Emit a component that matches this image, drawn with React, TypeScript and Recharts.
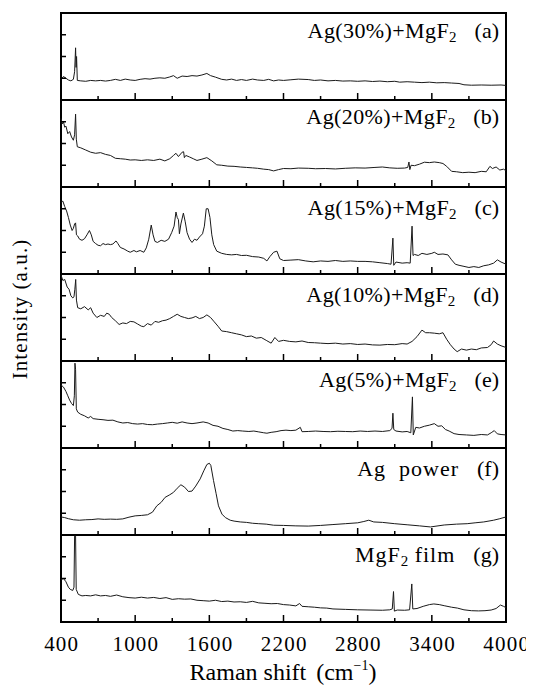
import React from 'react';
import { LineChart, Line, XAxis, YAxis, ReferenceArea } from 'recharts';

type Pt = [number, number];

const majorTicks = [400, 1000, 1600, 2200, 2800, 3400, 4000];
const allTicks = [400, 700, 1000, 1300, 1600, 1900, 2200, 2500, 2800, 3100, 3400, 3700, 4000];
const yTicks = [1, 2, 3];

const labelMain = ['Ag(30%)+MgF', 'Ag(20%)+MgF', 'Ag(15%)+MgF', 'Ag(10%)+MgF', 'Ag(5%)+MgF', 'Ag\u00a0\u00a0power', 'MgF'];
const labelSub = ['2', '2', '2', '2', '2', '', '2'];
const labelTail = ['', '', '', '', '', '', '\u00a0film'];
const labelTag = ['(a)', '(b)', '(c)', '(d)', '(e)', '(f)', '(g)'];

// Ag(30%)+MgF2
const specA: Pt[] = [
  [400, 0.95], [420, 1.08], [440, 1.0], [460, 0.92], [480, 0.88], [500, 0.95], [510, 1.3], [518, 2.4], [522, 1.5],
  [526, 2.0], [532, 0.9], [560, 0.88], [600, 0.86], [640, 0.9], [680, 0.88], [720, 0.9], [760, 0.87], [800, 0.9],
  [840, 0.95], [880, 0.9], [920, 0.96], [960, 0.92], [1000, 0.9], [1040, 0.95], [1080, 0.98], [1120, 0.96],
  [1160, 1.0], [1200, 1.02], [1240, 1.0], [1280, 1.06], [1310, 1.12], [1340, 1.0], [1380, 1.1], [1420, 1.08],
  [1460, 1.12], [1500, 1.1], [1540, 1.15], [1580, 1.22], [1610, 1.12], [1650, 1.05], [1700, 0.95], [1740, 0.92],
  [1780, 0.96], [1820, 0.9], [1860, 0.94], [1900, 0.9], [1950, 0.96], [1990, 0.92], [2040, 0.9], [2080, 0.95],
  [2120, 0.88], [2160, 0.92], [2200, 0.9], [2260, 0.93], [2320, 0.96], [2400, 0.94], [2450, 0.9], [2500, 0.92],
  [2560, 0.88], [2620, 0.9], [2680, 0.87], [2740, 0.88], [2800, 0.86], [2860, 0.88], [2920, 0.85], [2980, 0.87],
  [3040, 0.84], [3100, 0.86], [3140, 0.82], [3200, 0.84], [3260, 0.82], [3320, 0.8], [3380, 0.82], [3440, 0.79],
  [3500, 0.8], [3560, 0.78], [3620, 0.76], [3660, 0.7], [3720, 0.68], [3800, 0.69], [3880, 0.68], [3960, 0.69],
  [4000, 0.67],
];

// Ag(20%)+MgF2
const specB: Pt[] = [
  [400, 3.15], [410, 2.9], [420, 3.0], [430, 2.75], [440, 2.8], [455, 2.45], [470, 2.55], [485, 2.3], [500, 2.15],
  [510, 2.4], [518, 3.35], [524, 2.2], [532, 1.85], [560, 1.8], [600, 1.7], [640, 1.6], [680, 1.55], [720, 1.58],
  [760, 1.5], [800, 1.45], [840, 1.32], [880, 1.3], [920, 1.28], [960, 1.24], [1000, 1.25], [1050, 1.22],
  [1100, 1.25], [1150, 1.22], [1200, 1.28], [1240, 1.2], [1280, 1.3], [1310, 1.45], [1330, 1.55], [1350, 1.4],
  [1380, 1.6], [1392, 1.62], [1398, 1.35], [1410, 1.45], [1440, 1.38], [1470, 1.3], [1500, 1.22], [1540, 1.28],
  [1580, 1.35], [1620, 1.2], [1660, 1.02], [1700, 1.0], [1750, 0.96], [1800, 0.95], [1850, 0.92], [1900, 0.9],
  [1950, 0.88], [1990, 0.86], [2040, 0.82], [2080, 0.8], [2120, 0.74], [2160, 0.8], [2200, 0.85], [2260, 0.84],
  [2320, 0.87], [2400, 0.86], [2460, 0.84], [2540, 0.85], [2620, 0.83], [2700, 0.86], [2780, 0.88], [2860, 0.87],
  [2940, 0.9], [3000, 0.92], [3060, 0.88], [3120, 0.86], [3180, 0.87], [3205, 0.9], [3215, 1.15], [3222, 0.8],
  [3232, 1.0], [3260, 0.98], [3300, 1.05], [3340, 1.14], [3380, 1.12], [3420, 1.15], [3460, 1.12], [3490, 1.08],
  [3520, 0.95], [3560, 0.72], [3600, 0.7], [3650, 0.66], [3700, 0.68], [3750, 0.66], [3800, 0.72], [3840, 0.7],
  [3870, 0.95], [3890, 0.85], [3920, 0.92], [3950, 0.78], [3980, 0.82], [4000, 0.75],
];

// Ag(15%)+MgF2
const specC: Pt[] = [
  [400, 3.3], [415, 3.35], [430, 3.1], [445, 2.9], [460, 2.6], [475, 2.25], [490, 2.0], [500, 2.1], [510, 2.3],
  [518, 2.35], [525, 1.8], [535, 1.75], [550, 1.6], [570, 1.55], [590, 1.62], [610, 1.8], [630, 2.0], [645, 1.8],
  [660, 1.5], [680, 1.4], [700, 1.32], [720, 1.3], [740, 1.4], [760, 1.35], [780, 1.38], [800, 1.35], [820, 1.38],
  [845, 1.52], [860, 1.4], [880, 1.22], [910, 1.15], [940, 1.05], [960, 1.0], [990, 1.08], [1010, 1.02],
  [1040, 1.08], [1070, 1.0], [1090, 1.2], [1110, 1.6], [1130, 2.25], [1145, 1.8], [1160, 1.5], [1180, 1.45],
  [1210, 1.55], [1240, 1.5], [1270, 1.6], [1295, 1.9], [1315, 2.2], [1330, 2.85], [1340, 2.6], [1350, 2.5],
  [1358, 1.85], [1370, 2.3], [1390, 2.8], [1405, 2.4], [1420, 1.9], [1440, 1.6], [1460, 1.45], [1480, 1.6],
  [1500, 1.55], [1520, 1.7], [1545, 1.85], [1560, 2.2], [1575, 3.0], [1590, 3.0], [1605, 2.6], [1620, 1.8],
  [1635, 1.35], [1660, 1.05], [1700, 0.95], [1740, 0.9], [1780, 0.88], [1820, 0.9], [1860, 0.85], [1900, 0.86],
  [1950, 0.8], [2000, 0.78], [2040, 0.72], [2066, 0.6], [2090, 0.8], [2120, 1.0], [2147, 1.05], [2170, 0.7],
  [2200, 0.62], [2260, 0.64], [2320, 0.66], [2380, 0.6], [2440, 0.56], [2500, 0.6], [2560, 0.58], [2620, 0.62],
  [2680, 0.58], [2740, 0.6], [2800, 0.58], [2860, 0.58], [2920, 0.56], [2980, 0.52], [3040, 0.48], [3070, 0.45],
  [3085, 1.65], [3092, 0.4], [3110, 0.55], [3160, 0.5], [3200, 0.52], [3225, 0.5], [3240, 2.2], [3248, 0.85],
  [3260, 0.9], [3290, 0.85], [3320, 0.95], [3360, 0.9], [3400, 0.95], [3420, 1.0], [3450, 0.9], [3490, 0.92],
  [3530, 0.88], [3560, 0.65], [3590, 0.45], [3620, 0.4], [3660, 0.35], [3700, 0.3], [3740, 0.34], [3780, 0.3],
  [3820, 0.38], [3860, 0.42], [3900, 0.5], [3930, 0.65], [3960, 0.55], [4000, 0.45],
];

// Ag(10%)+MgF2
const specD: Pt[] = [
  [400, 3.95], [415, 3.7], [430, 3.75], [450, 3.4], [465, 3.3], [480, 3.0], [495, 2.9], [505, 2.95], [512, 3.3],
  [519, 3.75], [525, 2.8], [535, 2.45], [560, 2.4], [590, 2.5], [620, 2.35], [640, 2.45], [660, 2.2], [690, 2.0],
  [720, 2.1], [750, 2.05], [770, 2.2], [790, 2.15], [810, 2.0], [840, 1.85], [870, 1.68], [900, 1.75], [930, 1.72],
  [960, 1.82], [990, 1.8], [1020, 1.7], [1050, 1.6], [1070, 1.58], [1100, 1.72], [1130, 1.65], [1160, 1.82],
  [1190, 1.78], [1220, 1.85], [1250, 1.88], [1280, 1.95], [1310, 2.05], [1340, 2.15], [1370, 2.05], [1400, 2.0],
  [1430, 1.95], [1460, 1.98], [1490, 2.05], [1520, 1.95], [1550, 2.0], [1580, 2.12], [1610, 2.0], [1640, 1.8],
  [1670, 1.6], [1700, 1.38], [1740, 1.35], [1780, 1.3], [1820, 1.25], [1860, 1.2], [1900, 1.12], [1940, 1.15],
  [1980, 1.05], [2020, 1.08], [2060, 0.95], [2100, 0.82], [2130, 1.08], [2160, 0.9], [2200, 0.95], [2250, 0.9],
  [2300, 0.88], [2350, 0.92], [2400, 0.85], [2450, 0.84], [2500, 0.82], [2560, 0.8], [2620, 0.82], [2680, 0.78],
  [2740, 0.8], [2800, 0.76], [2860, 0.78], [2920, 0.74], [2980, 0.73], [3040, 0.76], [3100, 0.75], [3160, 0.8],
  [3200, 0.78], [3240, 0.9], [3280, 1.12], [3320, 1.42], [3350, 1.3], [3380, 1.3], [3420, 1.28], [3460, 1.25],
  [3490, 1.3], [3520, 1.0], [3550, 0.75], [3580, 0.55], [3605, 0.43], [3640, 0.55], [3680, 0.5], [3720, 0.55],
  [3760, 0.52], [3800, 0.6], [3850, 0.62], [3880, 0.75], [3900, 0.92], [3930, 0.78], [3960, 0.7], [4000, 0.62],
];

// Ag(5%)+MgF2
const specE: Pt[] = [
  [400, 2.9], [420, 2.8], [440, 2.6], [455, 2.4], [470, 2.2], [485, 2.05], [500, 1.95], [508, 2.4], [513, 3.9],
  [518, 3.6], [524, 1.8], [535, 1.65], [560, 1.55], [590, 1.48], [620, 1.38], [640, 1.45], [660, 1.35], [700, 1.32],
  [740, 1.3], [780, 1.27], [820, 1.28], [860, 1.2], [900, 1.15], [940, 1.17], [980, 1.12], [1020, 1.1], [1060, 1.12],
  [1100, 1.08], [1140, 1.07], [1180, 1.1], [1220, 1.12], [1260, 1.15], [1300, 1.18], [1340, 1.14], [1380, 1.2],
  [1420, 1.15], [1460, 1.12], [1500, 1.15], [1550, 1.2], [1590, 1.15], [1630, 1.04], [1670, 1.0], [1710, 0.9],
  [1750, 0.85], [1790, 0.78], [1830, 0.8], [1870, 0.78], [1920, 0.76], [1960, 0.78], [2000, 0.74], [2040, 0.7],
  [2066, 0.68], [2100, 0.72], [2140, 0.75], [2180, 0.8], [2220, 0.82], [2260, 0.8], [2300, 0.82], [2336, 0.95],
  [2350, 0.75], [2400, 0.76], [2460, 0.78], [2520, 0.76], [2580, 0.75], [2640, 0.77], [2700, 0.76], [2760, 0.75],
  [2820, 0.78], [2880, 0.76], [2940, 0.78], [3000, 0.76], [3060, 0.8], [3078, 0.9], [3085, 1.6], [3092, 0.85],
  [3110, 0.78], [3160, 0.74], [3200, 0.76], [3230, 0.7], [3243, 2.35], [3250, 0.6], [3270, 0.95], [3300, 0.92],
  [3340, 1.0], [3380, 1.05], [3420, 1.12], [3450, 1.0], [3480, 1.02], [3510, 0.85], [3540, 0.78], [3580, 0.66],
  [3620, 0.62], [3680, 0.6], [3740, 0.58], [3800, 0.62], [3850, 0.6], [3880, 0.7], [3905, 0.8], [3930, 0.65],
  [3960, 0.62], [4000, 0.6],
];

// Ag power
const specF: Pt[] = [
  [400, 0.83], [430, 0.8], [460, 0.75], [500, 0.7], [550, 0.68], [600, 0.7], [650, 0.71], [700, 0.74], [750, 0.72],
  [800, 0.73], [850, 0.72], [900, 0.74], [950, 0.82], [1000, 0.88], [1050, 0.9], [1100, 0.93], [1140, 1.05],
  [1175, 1.34], [1210, 1.5], [1242, 1.73], [1280, 1.85], [1310, 1.96], [1340, 2.15], [1370, 2.31], [1400, 2.2],
  [1431, 2.0], [1460, 2.02], [1490, 2.25], [1526, 2.58], [1555, 2.95], [1580, 3.24], [1600, 3.3], [1612, 3.2],
  [1634, 2.5], [1655, 1.9], [1674, 1.34], [1702, 0.96], [1730, 0.8], [1769, 0.68], [1800, 0.64], [1850, 0.6],
  [1900, 0.58], [1950, 0.54], [2000, 0.52], [2060, 0.5], [2120, 0.45], [2200, 0.44], [2300, 0.42], [2400, 0.41],
  [2500, 0.44], [2600, 0.48], [2700, 0.52], [2800, 0.56], [2850, 0.62], [2890, 0.68], [2930, 0.6], [3000, 0.58],
  [3100, 0.52], [3200, 0.47], [3300, 0.42], [3389, 0.37], [3450, 0.42], [3500, 0.46], [3600, 0.5], [3686, 0.52],
  [3750, 0.56], [3820, 0.6], [3900, 0.68], [3950, 0.75], [4000, 0.83],
];

// MgF2 film
const specG: Pt[] = [
  [400, 1.95], [420, 2.0], [440, 1.85], [460, 1.6], [475, 1.5], [495, 1.45], [505, 1.6], [510, 3.95], [518, 3.95],
  [523, 1.5], [540, 1.27], [570, 1.2], [600, 1.22], [640, 1.2], [680, 1.25], [720, 1.2], [760, 1.22], [800, 1.18],
  [850, 1.24], [900, 1.16], [950, 1.12], [1000, 1.1], [1050, 1.14], [1100, 1.1], [1150, 1.13], [1200, 1.08],
  [1250, 1.12], [1300, 1.04], [1350, 1.07], [1400, 1.05], [1450, 1.06], [1500, 1.0], [1550, 0.98], [1600, 0.96],
  [1650, 1.0], [1700, 0.94], [1750, 0.96], [1800, 0.92], [1850, 0.93], [1900, 0.9], [1950, 0.95], [2000, 0.88],
  [2050, 0.86], [2100, 0.84], [2150, 0.85], [2200, 0.8], [2250, 0.78], [2300, 0.74], [2330, 0.85], [2350, 0.72],
  [2400, 0.7], [2450, 0.68], [2500, 0.65], [2550, 0.64], [2600, 0.6], [2700, 0.58], [2800, 0.56], [2900, 0.55],
  [3000, 0.54], [3060, 0.56], [3080, 0.6], [3090, 1.4], [3097, 0.5], [3120, 0.55], [3180, 0.54], [3220, 0.56],
  [3238, 1.75], [3246, 0.6], [3280, 0.62], [3330, 0.72], [3380, 0.8], [3416, 0.83], [3460, 0.8], [3500, 0.75],
  [3560, 0.68], [3607, 0.64], [3660, 0.56], [3720, 0.52], [3777, 0.51], [3830, 0.52], [3880, 0.55], [3920, 0.62],
  [3955, 0.78], [3980, 0.72], [4000, 0.66],
];

const spectra = [specA, specB, specC, specD, specE, specF, specG];
const labelBaseline = [25, 24.5, 28, 28, 26.5, 28.5, 27.7];
const labelSpacing = [0.4, 0.4, 0.4, 0.4, 0.4, 1.0, 1.0];

const FONT = "'Liberation Serif', Tinos, 'Times New Roman', Times, 'DejaVu Serif', serif";
const PANEL_H = 87;

const toRows = (pts: Pt[]) => pts.map(([x, y]) => ({ x, y }));

function XTick(props: any) {
  const { x, y, payload, showLabel } = props;
  const major = majorTicks.includes(payload.value);
  return (
    <g>
      <line x1={x} x2={x} y1={y} y2={y - (major ? 7 : 4)} stroke="#000" strokeWidth={1.5} />
      {showLabel && major && (
        <text
          x={x + 0.7}
          y={y + 28.5}
          textAnchor="middle"
          fontSize={21}
          letterSpacing={1.2}
          style={{ fontFamily: FONT }}
          fill="#000"
        >
          {payload.value}
        </text>
      )}
    </g>
  );
}

function YTick(props: any) {
  const { x, y } = props;
  return <line x1={x} x2={x + 5} y1={y} y2={y} stroke="#000" strokeWidth={1.5} />;
}

function Panel({ pts, last }: { pts: Pt[]; last: boolean }) {
  return (
    <div style={{ height: last ? undefined : PANEL_H }}>
      <LineChart
        width={526}
        height={last ? PANEL_H + 72 : PANEL_H + 3}
        data={toRows(pts)}
        margin={{ top: 1, right: 28, bottom: 0, left: 0 }}
      >
        <XAxis
          type="number"
          dataKey="x"
          domain={[400, 4000]}
          ticks={allTicks}
          interval={0}
          height={last ? 71 : 2}
          tickLine={false}
          tickSize={0}
          tickMargin={0}
          axisLine={false}
          tick={<XTick showLabel={last} />}
        />
        <YAxis
          type="number"
          domain={[0, 4]}
          ticks={yTicks}
          interval={0}
          width={53}
          tickLine={false}
          tickSize={0}
          tickMargin={0}
          axisLine={false}
          tick={<YTick />}
        />
        <ReferenceArea
          x1={400}
          x2={4000}
          y1={0}
          y2={4}
          fill="none"
          fillOpacity={0}
          stroke="#000"
          strokeWidth={2}
          ifOverflow="visible"
        />
        <Line dataKey="y" type="linear" stroke="#1a1a1a" strokeWidth={1} dot={false} isAnimationActive={false} />
      </LineChart>
    </div>
  );
}

export default function App() {
  return (
    <div style={{ position: 'relative', width: 526, height: 684, paddingTop: 4, boxSizing: 'border-box', fontFamily: FONT }}>
      {spectra.map((pts, i) => (
        <Panel key={i} pts={pts} last={i === spectra.length - 1} />
      ))}

      {labelMain.map((name, i) => (
        <div
          key={name + i}
          style={{
            position: 'absolute',
            right: 35,
            top: 5 + PANEL_H * i + labelBaseline[i] - 17.4,
            fontSize: 22,
            lineHeight: '20px',
            whiteSpace: 'nowrap',
            color: '#000',
          }}
        >
          <span style={{ letterSpacing: labelSpacing[i] }}>{name}</span>
          {labelSub[i] && <span style={{ fontSize: 15, position: 'relative', top: 4 }}>{labelSub[i]}</span>}
          {labelTail[i] && <span style={{ letterSpacing: labelSpacing[i] }}>{labelTail[i]}</span>}
          <span style={{ marginLeft: 18 }}>{labelTag[i]}</span>
        </div>
      ))}

      <div
        style={{
          position: 'absolute',
          left: 12 - 100,
          top: 300.5 - 12,
          width: 200,
          fontSize: 21,
          lineHeight: '24px',
          letterSpacing: 1.1,
          textAlign: 'center',
          transform: 'rotate(-90deg)',
          whiteSpace: 'nowrap',
        }}
      >
        Intensity (a.u.)
      </div>

      <div
        style={{
          position: 'absolute',
          left: 75,
          top: 649.5,
          width: 400,
          fontSize: 24,
          lineHeight: '28px',
          textAlign: 'center',
          whiteSpace: 'nowrap',
        }}
      >
        Raman shift
        <span style={{ marginLeft: 10 }}>(cm</span>
        <span style={{ fontSize: 14, position: 'relative', top: -10 }}>−1</span>)
      </div>
    </div>
  );
}
